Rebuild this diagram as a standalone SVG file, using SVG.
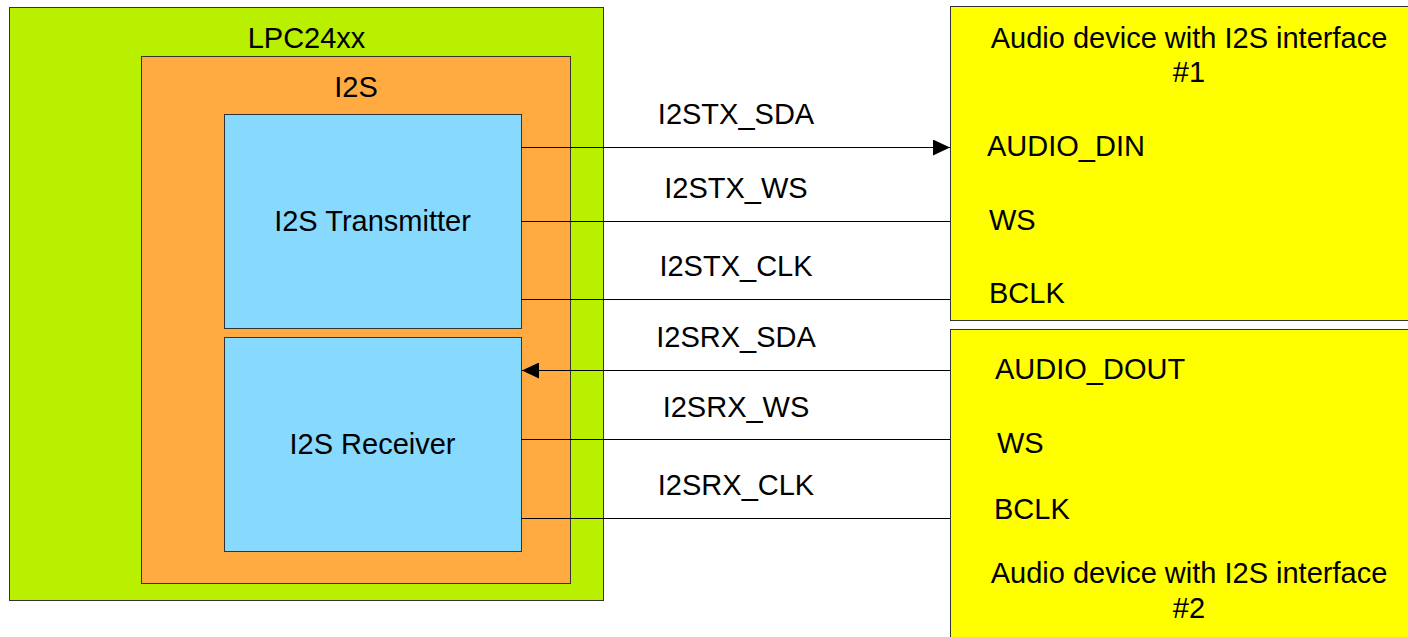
<svg xmlns="http://www.w3.org/2000/svg" width="1408" height="637" viewBox="0 0 1408 637">
<style>
.t{font-family:"Liberation Sans",Arial,sans-serif;font-size:29px;fill:#000}
.c{text-anchor:middle}
.box{stroke:#333;stroke-width:1}
.wire{stroke:#000;stroke-width:1;fill:none}
</style>
<defs>
<marker id="arr" markerWidth="17" markerHeight="16" refX="17" refY="8" orient="auto" markerUnits="userSpaceOnUse">
<path d="M0,0 L17,8 L0,16 Z" fill="#000"/>
</marker>
</defs>
<rect width="1408" height="637" fill="#fff"/>
<g id="lpc24xx">
<rect class="box" x="9.5" y="7.5" width="594" height="593" fill="#b9f000"/>
<text class="t c" x="306.5" y="48">LPC24xx</text>
</g>
<g id="i2s">
<rect class="box" x="141.5" y="56.5" width="429" height="527" fill="#ffab42"/>
<text class="t c" x="356" y="97">I2S</text>
</g>
<g id="transmitter">
<rect class="box" x="224.5" y="114.5" width="297" height="214" fill="#88d9fe"/>
<text class="t c" x="372.5" y="231">I2S Transmitter</text>
</g>
<g id="receiver">
<rect class="box" x="224.5" y="337.5" width="297" height="214" fill="#88d9fe"/>
<text class="t c" x="372.5" y="454">I2S Receiver</text>
</g>
<g id="device1">
<rect class="box" x="950.5" y="6.5" width="470" height="314" fill="#ffff00"/>
<text class="t c" x="1189" y="48">Audio device with I2S interface</text>
<text class="t c" x="1189" y="82">#1</text>
<text class="t" x="987" y="156">AUDIO_DIN</text>
<text class="t" x="989" y="230">WS</text>
<text class="t" x="989" y="303">BCLK</text>
</g>
<g id="device2">
<rect class="box" x="950.5" y="329.5" width="470" height="320" fill="#ffff00"/>
<text class="t" x="995" y="379">AUDIO_DOUT</text>
<text class="t" x="997" y="453">WS</text>
<text class="t" x="994" y="519">BCLK</text>
<text class="t c" x="1189" y="583">Audio device with I2S interface</text>
<text class="t c" x="1189" y="618">#2</text>
</g>
<g id="connectors">
<line class="wire" x1="521" y1="147.5" x2="950" y2="147.5" marker-end="url(#arr)"/>
<line class="wire" x1="521" y1="221.5" x2="950" y2="221.5"/>
<line class="wire" x1="521" y1="299.5" x2="950" y2="299.5"/>
<line class="wire" x1="950" y1="370.5" x2="522" y2="370.5" marker-end="url(#arr)"/>
<line class="wire" x1="521" y1="439.5" x2="950" y2="439.5"/>
<line class="wire" x1="521" y1="518.5" x2="950" y2="518.5"/>
<text class="t c" x="736" y="124">I2STX_SDA</text>
<text class="t c" x="736" y="198">I2STX_WS</text>
<text class="t c" x="736" y="276">I2STX_CLK</text>
<text class="t c" x="736" y="347">I2SRX_SDA</text>
<text class="t c" x="736" y="417">I2SRX_WS</text>
<text class="t c" x="736" y="495">I2SRX_CLK</text>
</g>
</svg>
